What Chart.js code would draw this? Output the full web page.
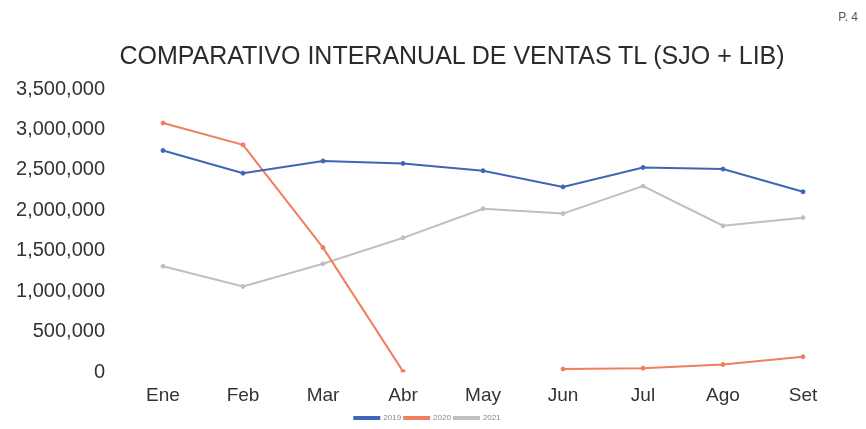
<!DOCTYPE html>
<html>
<head>
<meta charset="utf-8">
<script src="https://cdn.jsdelivr.net/npm/chart.js@4"></script>
<style>
  html, body { margin: 0; padding: 0; background: #fff; }
  #wrap { position: relative; width: 866px; height: 429px; }
  #page { position: absolute; right: 8px; top: 10px; font: 12px "Liberation Sans", Arial, sans-serif; color: #555; }
  #title {
    position: absolute; left: 0; top: 41px; width: 904px; text-align: center;
    font: 25px "Liberation Sans", Arial, sans-serif; color: #2b2b2b; white-space: nowrap;
  }
</style>
</head>
<body>
<div id="wrap">
  <canvas id="myChart" width="866" height="429"></canvas>
  <div id="title">COMPARATIVO INTERANUAL DE VENTAS TL (SJO + LIB)</div>
  <div id="page">P. 4</div>
</div>
<script>
// months on the x axis
const months = ['Ene', 'Feb', 'Mar', 'Abr', 'May', 'Jun', 'Jul', 'Ago', 'Set'];

// sales per year
const ventas2019 = [2740000, 2460000, 2610000, 2580000, 2490000, 2290000, 2530000, 2510000, 2230000];
const ventas2020 = [3080000, 2810000, 1540000, 10000, null, 40000, 50000, 95000, 190000];
const ventas2021 = [1310000, 1060000, 1340000, 1660000, 2020000, 1960000, 2300000, 1810000, 1910000];

const yMax = 3500000;
const yStep = 500000;

function makeSet(label, values, color) {
  return {
    label: label,
    data: values,
    borderColor: color,
    backgroundColor: color,
    borderWidth: 2,
    pointRadius: 2,
    pointBorderWidth: 1,
    pointHoverRadius: 3,
    tension: 0,
    spanGaps: false
  };
}

function initChart(target) {
  const data = {
    labels: months,
    datasets: [
      makeSet('2019', ventas2019, '#3f65b5'),
      makeSet('2020', ventas2020, '#ef7f5e'),
      makeSet('2021', ventas2021, '#bfbfbf')
    ]
  };

  const config = {
    type: 'line',
    data: data,
    options: {
      responsive: false,
      animation: false,
      layout: { padding: { left: 12, right: 23, bottom: -3, top: 89 } },
      plugins: {
        title: { display: false },
        legend: {
          position: 'bottom',
          labels: {
            color: '#888',
            font: { family: '"Liberation Sans", Arial, sans-serif', size: 8 },
            boxWidth: 25,
            boxHeight: 2,
            padding: 3
          }
        },
        tooltip: { enabled: false }
      },
      scales: {
        x: {
          offset: true,
          grid: { display: false },
          border: { display: false },
          ticks: {
            color: '#333',
            font: { family: '"Liberation Sans", Arial, sans-serif', size: 19 },
            padding: 4
          }
        },
        y: {
          min: 0,
          max: yMax,
          grid: { display: false },
          border: { display: false },
          afterFit: (scale) => { scale.width = 111; },
          ticks: {
            stepSize: yStep,
            color: '#333',
            padding: 10,
            font: { family: '"Liberation Sans", Arial, sans-serif', size: 20 },
            callback: (v) => v.toLocaleString('en-US')
          }
        }
      }
    }
  };

  return new Chart(target, config);
}

document.addEventListener('DOMContentLoaded', () => {
  initChart(document.querySelector('#myChart'));
});
</script>
</body>
</html>
